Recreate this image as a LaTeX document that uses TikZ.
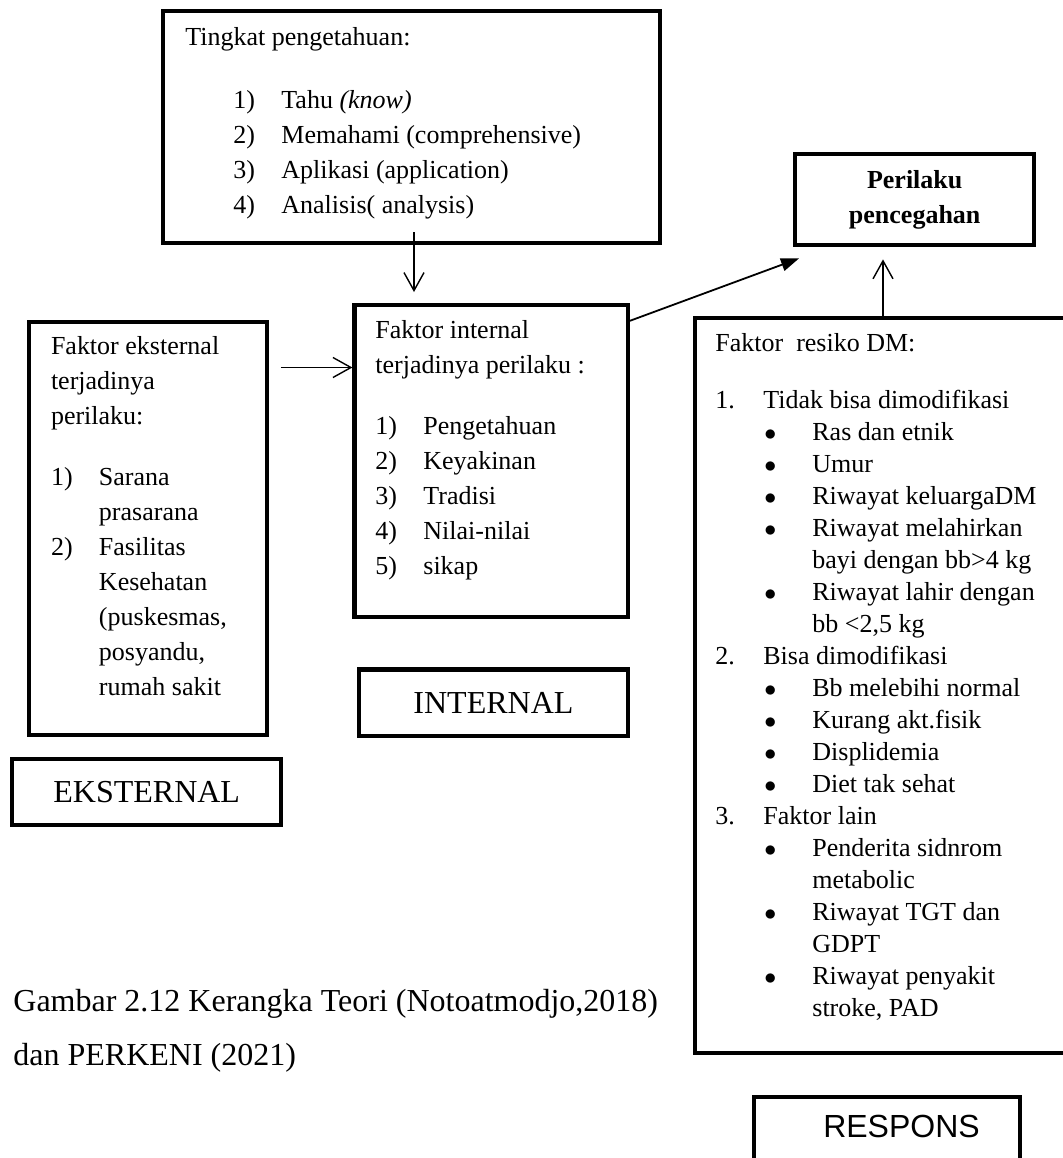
\documentclass[tikz,border=0pt]{standalone}
\usepackage{fontspec}
\setmainfont{Liberation Serif}
\newfontfamily\sansarial{Liberation Sans}
\usetikzlibrary{arrows.meta,calc}

\newcommand{\itemnum}[1]{\makebox[24pt][l]{#1}}
\newcommand{\butir}{\hspace*{24.5pt}\makebox[24pt][l]{$\bullet$}}
\newcommand{\lanjut}{\hspace*{48.5pt}}

\tikzset{
  boxframe/.style={draw, line width=2.2pt, inner sep=0pt, anchor=north west},
  boxtext/.style={anchor=base west, inner sep=0pt, align=flush left, font=\fontsize{13}{17.5}\selectfont},
  labelbox/.style={draw, line width=2.2pt, inner sep=0pt, anchor=north west, font=\fontsize{16}{19}\selectfont},
  openarrow/.style={-{Straight Barb[length=9pt,width=10pt]}, line width=0.7pt},
  fillarrow/.style={-{Triangle[length=9pt,width=6.5pt]}, line width=0.9pt}
}

\begin{document}
\begin{tikzpicture}[x=0.5pt,y=-0.5pt]
\useasboundingbox (0,0) rectangle (1063,1158);

% kotak
\node[boxframe, minimum width=248.5pt, minimum height=116pt] (topbox) at (161,9) {};
\node[boxframe, minimum width=119pt, minimum height=206.5pt] (extbox) at (27,320) {};
\node[boxframe, minimum width=136.8pt, minimum height=156.1pt] (intbox) at (352.4,302.6) {};
\node[boxframe, minimum width=193.5pt, minimum height=367.5pt] (riskbox) at (693,316) {};

\node[labelbox, minimum width=134.75pt, minimum height=33.3pt] (intlabel) at (356.5,667.4) {INTERNAL};
\node[labelbox, minimum width=134.5pt, minimum height=33pt] (extlabel) at (10,757) {EKSTERNAL};
\node[labelbox, font=\bfseries\fontsize{13}{17.5}\selectfont, align=center,
      minimum width=119.5pt, minimum height=45.5pt] (perilaku) at (793,152) {Perilaku\\pencegahan};
\node[labelbox, minimum width=133pt, minimum height=45pt] (respons) at (752,1095) {};
\node[anchor=base, inner sep=0pt, font=\sansarial\fontsize{16}{19}\selectfont] (respontext) at (901.5,1137) {RESPONS};

% isi kotak
\node[boxtext, text width=230pt] (toptext) at (185,45) {Tingkat pengetahuan:\\[14pt]
  \hspace*{24pt}\itemnum{1)}Tahu \textit{(know)}\\
  \hspace*{24pt}\itemnum{2)}Memahami (comprehensive)\\
  \hspace*{24pt}\itemnum{3)}Aplikasi (application)\\
  \hspace*{24pt}\itemnum{4)}Analisis( analysis)};

\node[boxtext, text width=110pt] (exttext) at (50.6,354) {Faktor eksternal\\
  terjadinya\\
  perilaku:\\[13pt]
  \itemnum{1)}Sarana\\
  \hspace*{24pt}prasarana\\
  \itemnum{2)}Fasilitas\\
  \hspace*{24pt}Kesehatan\\
  \hspace*{24pt}(puskesmas,\\
  \hspace*{24pt}posyandu,\\
  \hspace*{24pt}rumah sakit};

\node[boxtext, text width=125pt] (inttext) at (375,338) {Faktor internal\\
  terjadinya perilaku :\\[13pt]
  \itemnum{1)}Pengetahuan\\
  \itemnum{2)}Keyakinan\\
  \itemnum{3)}Tradisi\\
  \itemnum{4)}Nilai-nilai\\
  \itemnum{5)}sikap};

\node[boxtext, font=\fontsize{13}{16}\selectfont, text width=175pt] (risktext) at (715,351.7) {Faktor\ \ resiko DM:\\[12.6pt]
  \itemnum{1.}Tidak bisa dimodifikasi\\
  \butir Ras dan etnik\\
  \butir Umur\\
  \butir Riwayat keluargaDM\\
  \butir Riwayat melahirkan\\
  \lanjut bayi dengan bb>4 kg\\
  \butir Riwayat lahir dengan\\
  \lanjut bb <2,5 kg\\
  \itemnum{2.}Bisa dimodifikasi\\
  \butir Bb melebihi normal\\
  \butir Kurang akt.fisik\\
  \butir Displidemia\\
  \butir Diet tak sehat\\
  \itemnum{3.}Faktor lain\\
  \butir Penderita sidnrom\\
  \lanjut metabolic\\
  \butir Riwayat TGT dan\\
  \lanjut GDPT\\
  \butir Riwayat penyakit\\
  \lanjut stroke, PAD};

\node[boxtext, font=\fontsize{16}{27}\selectfont, text width=330pt] (caption) at (13,1011) {Gambar 2.12 Kerangka Teori (Notoatmodjo,2018)\\
  dan PERKENI (2021)};

% panah
\coordinate (kcol) at (414,0);
\coordinate (erow) at (0,367.5);
\coordinate (ucol) at (883,0);
\draw[openarrow] ($(topbox.south -| kcol)+(0,-13)$) -- ($(intbox.north -| kcol)+(0,-10.6)$);
\draw[openarrow] ($(extbox.east |- erow)+(11.5,0)$) -- (intbox.west |- erow);
\draw[fillarrow] ($(intbox.north east)+(-4,19.5)$) -- ($(perilaku.south west)+(6,11)$);
\draw[openarrow] (riskbox.north -| ucol) -- ($(perilaku.south -| ucol)+(0,12)$);
\end{tikzpicture}
\end{document}
